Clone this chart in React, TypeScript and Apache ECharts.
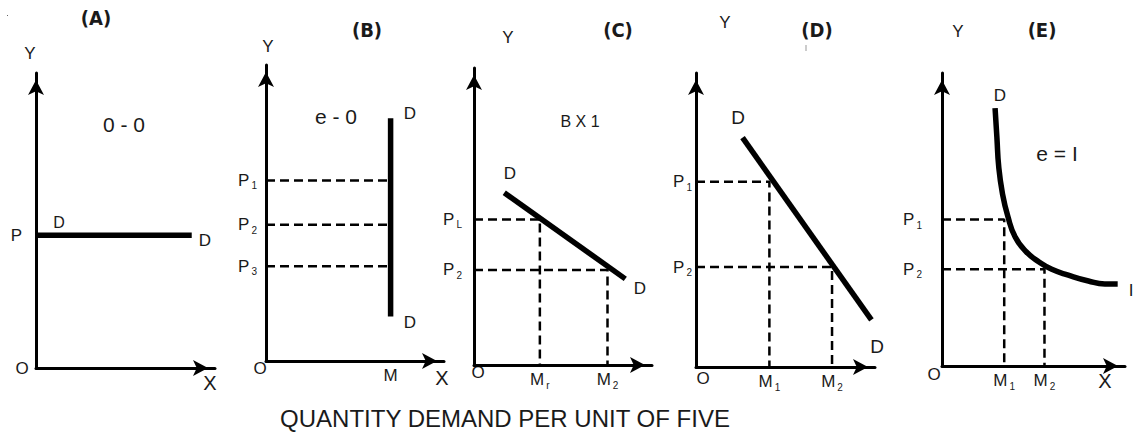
import React, { useEffect, useRef } from "react";
import * as echarts from "echarts";

// ---------------- data ----------------
const panelTitles = ["(A)", "(B)", "(C)", "(D)", "(E)"];
const caption = "QUANTITY DEMAND PER UNIT OF FIVE";

// demand curves (quantity, price) in axis units 0..10
const demandA = [[0, 4.5], [8.7, 4.5]];
const demandB = [[7.0, 8.2], [7.0, 1.5]];
const demandC = [[1.7, 5.8], [8.5, 2.9]];
const demandD = [[2.6, 7.8], [9.8, 1.6]];
const demandE = [
  [2.9, 8.8], [3.0, 7.8], [3.1, 6.8], [3.3, 5.9], [3.6, 5.1], [4.0, 4.4],
  [4.6, 3.9], [5.3, 3.55], [6.0, 3.3], [6.9, 3.1], [8.0, 2.9], [8.9, 2.8], [9.6, 2.8],
];

// price levels
const pricesA = [4.5];
const pricesB = [6.1, 4.6, 3.2];
const pricesC = [4.9, 3.2];
const pricesD = [6.3, 3.4];
const pricesE = [5.0, 3.3];
// quantity levels
const quantitiesB = [7.0];
const quantitiesC = [3.7, 7.5];
const quantitiesD = [4.1, 7.6];
const quantitiesE = [3.4, 5.6];
// tick label names
const priceNamesA = ["P"];
const priceNamesB = ["P{s|1}", "P{s|2}", "P{s|3}"];
const priceNamesC = ["P{s|L}", "P{s|2}"];
const priceNamesD = ["P{s|1}", "P{s|2}"];
const priceNamesE = ["P{s|1}", "P{s|2}"];
const qtyNamesB = ["M"];
const qtyNamesC = ["M{s|r}", "M{s|2}"];
const qtyNamesD = ["M{s|1}", "M{s|2}"];
const qtyNamesE = ["M{s|1}", "M{s|2}"];

// ---------------- layout ----------------
const FONT = "Liberation Sans, Arial, sans-serif";
const TITLE_FONT = "Liberation Sans Narrow, DejaVu Sans Condensed, sans-serif";
const INK = "#1a1a1a";
const grids = [
  { left: 36, top: 73, width: 179, height: 295 },
  { left: 266, top: 65, width: 178, height: 296 },
  { left: 474, top: 68, width: 178, height: 297 },
  { left: 696, top: 73, width: 179, height: 294 },
  { left: 942, top: 73, width: 183, height: 293 },
];
const priceLabelDist = [14, 9, 12, 4, 20];

const panels = [
  { demand: demandA, smooth: false, prices: pricesA, pNames: priceNamesA, qtys: [] as number[], qNames: [] as string[], guideMode: "none" },
  { demand: demandB, smooth: false, prices: pricesB, pNames: priceNamesB, qtys: quantitiesB, qNames: qtyNamesB, guideMode: "horizontal" },
  { demand: demandC, smooth: false, prices: pricesC, pNames: priceNamesC, qtys: quantitiesC, qNames: qtyNamesC, guideMode: "corner" },
  { demand: demandD, smooth: false, prices: pricesD, pNames: priceNamesD, qtys: quantitiesD, qNames: qtyNamesD, guideMode: "corner" },
  { demand: demandE, smooth: true, prices: pricesE, pNames: priceNamesE, qtys: quantitiesE, qNames: qtyNamesE, guideMode: "corner" },
];

type T = { x: number; y: number; t: string; s?: number; b?: boolean; f?: string };
const texts: T[] = [
  { x: 96, y: 18, t: panelTitles[0], s: 20, b: true, f: TITLE_FONT },
  { x: 367, y: 30, t: panelTitles[1], s: 20, b: true, f: TITLE_FONT },
  { x: 618, y: 30, t: panelTitles[2], s: 20, b: true, f: TITLE_FONT },
  { x: 817, y: 30, t: panelTitles[3], s: 20, b: true, f: TITLE_FONT },
  { x: 1042, y: 30, t: panelTitles[4], s: 20, b: true, f: TITLE_FONT },
  // A
  { x: 30, y: 53, t: "Y", s: 17 }, { x: 210, y: 383, t: "X", s: 20 }, { x: 22, y: 368, t: "O", s: 17 },
  { x: 59, y: 222, t: "D", s: 16 }, { x: 205, y: 240, t: "D", s: 17 }, { x: 124, y: 124, t: "0 - 0", s: 21 },
  // B
  { x: 268, y: 46, t: "Y", s: 17 }, { x: 442, y: 378, t: "X", s: 20 }, { x: 260, y: 368, t: "O", s: 17 },
  { x: 410, y: 113, t: "D", s: 17 }, { x: 410, y: 322, t: "D", s: 17 }, { x: 336, y: 116, t: "e - 0", s: 21 },
  // C
  { x: 508, y: 37, t: "Y", s: 17 }, { x: 478, y: 372, t: "O", s: 17 },
  { x: 510, y: 173, t: "D", s: 17 }, { x: 640, y: 288, t: "D", s: 17 }, { x: 580, y: 121, t: "B X 1", s: 16 },
  // D
  { x: 725, y: 22, t: "Y", s: 17 }, { x: 703, y: 378, t: "O", s: 17 },
  { x: 738, y: 117, t: "D", s: 19 }, { x: 877, y: 346, t: "D", s: 19 },
  // E
  { x: 958, y: 31, t: "Y", s: 17 }, { x: 1105, y: 381, t: "X", s: 20 }, { x: 934, y: 374, t: "O", s: 17 },
  { x: 1000, y: 95, t: "D", s: 17 }, { x: 1057, y: 153, t: "e = I", s: 21 }, { x: 1131, y: 290, t: "I", s: 17 },
  // caption
  { x: 505, y: 418, t: caption, s: 24 },
];

const subRich = {
  s: { fontSize: 10, fontFamily: FONT, color: INK, verticalAlign: "bottom", lineHeight: 21, padding: [0, 0, 0, 2] },
};

function buildOption() {
  const xAxis: any[] = [];
  const yAxis: any[] = [];
  const series: any[] = [];
  const axisLine = {
    show: true,
    onZero: false,
    symbol: ["none", "arrow"],
    symbolSize: [12, 15],
    symbolOffset: [0, -7],
    lineStyle: { color: "#000", width: 3 },
  };
  const labelBase = {
    show: true, formatter: "{b}", fontSize: 17, fontFamily: FONT, color: INK,
    lineHeight: 21, opacity: 1, textBorderWidth: 0, rich: subRich,
  };
  panels.forEach((p, i) => {
    xAxis.push({
      type: "value", gridIndex: i, min: 0, max: 10,
      axisLine, axisTick: { show: false }, axisLabel: { show: false }, splitLine: { show: false },
    });
    yAxis.push({
      type: "value", gridIndex: i, min: 0, max: 10,
      axisLine, axisTick: { show: false }, axisLabel: { show: false }, splitLine: { show: false },
    });
    const dash = { color: "#000", width: 2.5, type: [9, 5] };
    if (p.guideMode === "horizontal") {
      p.prices.forEach((pr) => {
        series.push({
          type: "line", xAxisIndex: i, yAxisIndex: i, symbol: "none", silent: true, clip: false,
          data: [[0, pr], [p.qtys[0], pr]], lineStyle: dash,
        });
      });
    } else if (p.guideMode === "corner") {
      p.prices.forEach((pr, k) => {
        series.push({
          type: "line", xAxisIndex: i, yAxisIndex: i, symbol: "none", silent: true, clip: false,
          data: [[0, pr], [p.qtys[k], pr], [p.qtys[k], 0]], lineStyle: dash,
        });
      });
    }
    series.push({
      type: "line", xAxisIndex: i, yAxisIndex: i, symbol: "none", silent: true, clip: false,
      smooth: p.smooth ? 0.5 : false,
      data: p.demand,
      lineStyle: { color: "#000", width: 5.5, cap: "butt" },
    });
    series.push({
      type: "scatter", xAxisIndex: i, yAxisIndex: i, silent: true, symbolSize: 0,
      itemStyle: { color: "#000", opacity: 1 },
      data: p.prices.map((pr, k) => ({ value: [0, pr], name: p.pNames[k] })),
      label: { ...labelBase, position: "left", distance: priceLabelDist[i] },
    });
    if (p.qtys.length) {
      series.push({
        type: "scatter", xAxisIndex: i, yAxisIndex: i, silent: true, symbolSize: 0,
        itemStyle: { color: "#000", opacity: 1 },
        data: p.qtys.map((q, k) => ({ value: [q, 0], name: p.qNames[k] })),
        label: { ...labelBase, position: "bottom", distance: 4 },
      });
    }
  });

  const graphic: any[] = texts.map((t) => ({
    type: "text", x: t.x, y: t.y, silent: true,
    style: {
      text: t.t, fill: INK, fontSize: t.s || 16, fontWeight: t.b ? "bold" : "normal",
      fontFamily: t.f || FONT, align: "center", verticalAlign: "middle",
    },
  }));
  graphic.push({ type: "line", silent: true, shape: { x1: 806, y1: 45, x2: 806, y2: 51 }, style: { stroke: "#999", lineWidth: 1 } });
  graphic.push({ type: "rect", silent: true, shape: { x: 7, y: 15, width: 1, height: 1 }, style: { fill: "#666" } });

  return {
    animation: false,
    backgroundColor: "#fff",
    grid: grids.map((g) => ({ ...g, containLabel: false })),
    xAxis, yAxis, series, graphic,
  };
}

export default function App() {
  const ref = useRef<HTMLDivElement>(null);
  useEffect(() => {
    document.body.style.margin = "0";
    if (!ref.current) return;
    const chart = echarts.init(ref.current, undefined, { renderer: "svg" });
    chart.setOption(buildOption());
    return () => chart.dispose();
  }, []);
  return <div ref={ref} style={{ width: 1134, height: 439 }} />;
}
